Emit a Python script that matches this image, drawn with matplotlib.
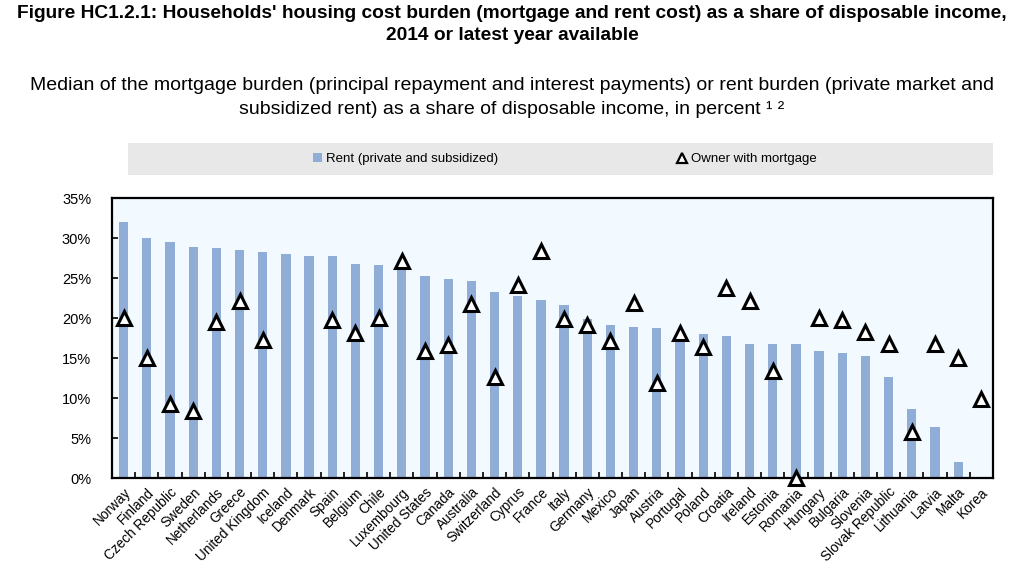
import matplotlib.pyplot as plt
from matplotlib.lines import Line2D
from matplotlib.patches import Patch
from matplotlib.ticker import FuncFormatter, FixedLocator
import numpy as np

plt.rcParams['font.family'] = ['Liberation Sans', 'DejaVu Sans']

countries = ['Norway', 'Finland', 'Czech Republic', 'Sweden', 'Netherlands', 'Greece',
             'United Kingdom', 'Iceland', 'Denmark', 'Spain', 'Belgium', 'Chile',
             'Luxembourg', 'United States', 'Canada', 'Australia', 'Switzerland', 'Cyprus',
             'France', 'Italy', 'Germany', 'Mexico', 'Japan', 'Austria', 'Portugal',
             'Poland', 'Croatia', 'Ireland', 'Estonia', 'Romania', 'Hungary', 'Bulgaria',
             'Slovenia', 'Slovak Republic', 'Lithuania', 'Latvia', 'Malta', 'Korea']

rent = [32.0, 30.0, 29.5, 28.9, 28.8, 28.5, 28.3, 28.0, 27.8, 27.7, 26.7, 26.6,
        26.9, 25.3, 24.9, 24.6, 23.3, 22.8, 22.2, 21.6, 19.9, 19.1, 18.9, 18.8, 17.9,
        18.0, 17.7, 16.8, 16.8, 16.7, 15.9, 15.6, 15.2, 12.6, 8.6, 6.4, 2.0, np.nan]

mortgage = [20.0, 15.0, 9.3, 8.4, 19.5, 22.1, 17.3, np.nan, np.nan, 19.8, 18.1, 20.0,
            27.1, 15.9, 16.6, 21.7, 12.6, 24.1, 28.4, 19.9, 19.1, 17.1, 21.9, 11.9, 18.1,
            16.4, 23.7, 22.1, 13.4, 0.0, 20.0, 19.8, 18.3, 16.7, 5.7, 16.7, 15.0, 9.9]

bar_color = '#8FADD6'

fig = plt.figure(figsize=(10.24, 5.70), dpi=100)

# titles
fig.text(0.5, 1 - 13/570, "Figure HC1.2.1: Households' housing cost burden (mortgage and rent cost) as a share of disposable income,",
         ha='center', va='center', fontsize=13.8, fontweight='bold')
fig.text(0.5, 1 - 36/570, "2014 or latest year available",
         ha='center', va='center', fontsize=13.8, fontweight='bold')
fig.text(0.5, 1 - 86/570, "Median of the mortgage burden (principal repayment and interest payments) or rent burden (private market and",
         ha='center', va='center', fontsize=14)
fig.text(0.5, 1 - 109/570, "subsidized rent) as a share of disposable income, in percent \u00b9 \u00b2",
         ha='center', va='center', fontsize=14)

# legend strip
lax = fig.add_axes([128/1024, 1 - 175/570, 865/1024, 32/570])
lax.set_facecolor('#E8E8E8')
for s in lax.spines.values():
    s.set_visible(False)
lax.set_xticks([])
lax.set_yticks([])
h1 = Patch(facecolor=bar_color, edgecolor='none')
h2 = Line2D([], [], marker='^', linestyle='none', markerfacecolor='white',
            markeredgecolor='black', markeredgewidth=1.6, markersize=7)
leg1 = lax.legend([h1], ['Rent (private and subsidized)'], loc='center left',
                  bbox_to_anchor=((306 - 128)/865, 0.5), frameon=False, fontsize=9.5,
                  borderpad=0, handlelength=0.7, handleheight=0.7, handletextpad=0.3)
lax.add_artist(leg1)
lax.legend([h2], ['Owner with mortgage'], loc='center left',
           bbox_to_anchor=((670 - 128)/865, 0.5), frameon=False, fontsize=9.5,
           borderpad=0, handlelength=0.8, handletextpad=0.3)

# main chart
ax = fig.add_axes([112/1024, 1 - 478/570, (993 - 112)/1024, (478 - 198)/570])
ax.set_facecolor('#F2FAFF')
x = np.arange(len(countries))
ax.bar(x, rent, width=0.4, color=bar_color, zorder=2)
ax.plot(x, mortgage, linestyle='none', marker='^', markersize=10.5,
        markerfacecolor='white', markeredgecolor='black', markeredgewidth=2.2,
        zorder=3, clip_on=False)

ax.set_xlim(-0.5, len(countries) - 0.5)
ax.set_ylim(0, 35)
ax.set_yticks(np.arange(0, 36, 5))
ax.yaxis.set_major_formatter(FuncFormatter(lambda v, p: f'{int(v)}%'))
ax.tick_params(axis='y', direction='in', length=4, width=1.2, pad=15, labelsize=10.5)

ax.set_xticks(x)
ax.set_xticklabels(countries, rotation=45, ha='right', rotation_mode='anchor', fontsize=9.8)
ax.tick_params(axis='x', which='major', length=0, pad=5)
ax.xaxis.set_minor_locator(FixedLocator(x[:-1] + 0.5))
ax.tick_params(axis='x', which='minor', direction='in', length=4, width=1.2)

for s in ax.spines.values():
    s.set_linewidth(1.6)
    s.set_color('black')

fig.savefig('out.png', dpi=100)
